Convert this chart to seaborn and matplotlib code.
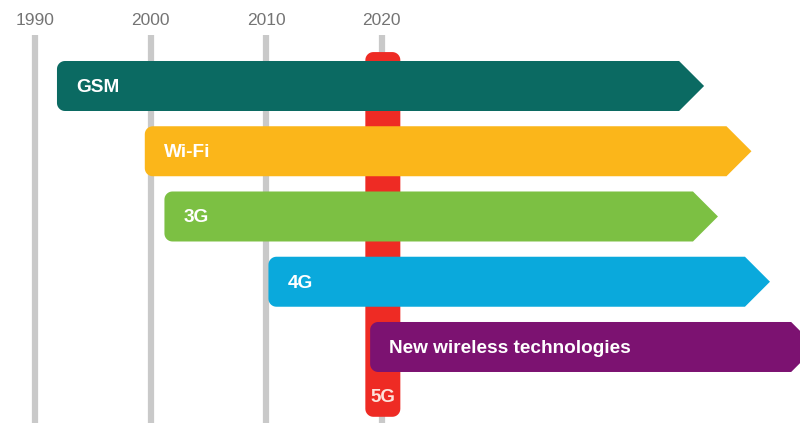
import numpy as np
import matplotlib
matplotlib.use("Agg")
import matplotlib.pyplot as plt
from matplotlib.patches import Polygon
import seaborn as sns

# Technology timeline data
techs = ["GSM", "Wi-Fi", "3G", "4G", "New wireless technologies"]
start_year = [1991.9, 1999.5, 2001.2, 2010.2, 2019.0]
end_year = [2047.9, 2052.0, 2049.1, 2053.6, 2057.6]
colors = ["#0b6a62", "#fbb61a", "#7cc043", "#0aa9dc", "#7c1271"]
year_ticks = [1990, 2000, 2010, 2020]
fiveg_label = "5G"
fiveg_year = 2020.1

sns.set_theme(style="white")
plt.rcParams["font.family"] = ["Liberation Sans", "DejaVu Sans"]

W, H = 800, 423
fig = plt.figure(figsize=(W / 100, H / 100), dpi=100)
ax = fig.add_axes([0, 0, 1, 1])
x0, x1 = 1986.97, 2056.2
y_top, y_bot = -1.318, 5.165
ax.set_xlim(x0, x1)
ax.set_ylim(y_bot, y_top)
ax.axis("off")

px_x = W / (x1 - x0)          # pixels per year
px_y = H / (y_bot - y_top)    # pixels per row


def arc(cx, cy, rx, ry, a0, a1, n=10):
    t = np.radians(np.linspace(a0, a1, n))
    return list(zip(cx + rx * np.cos(t), cy + ry * np.sin(t)))


def arrow_shape(x_left, x_tip, yc, half_h, r_px=8, depth_px=25):
    rx, ry = r_px / px_x, r_px / px_y
    d = depth_px / px_x
    top, bot = yc - half_h, yc + half_h
    pts = []
    # left side with rounded corners (y grows downward on screen)
    pts += arc(x_left + rx, top + ry, rx, ry, 180, 270)
    pts += [(x_tip - d, top), (x_tip, yc), (x_tip - d, bot)]
    pts += arc(x_left + rx, bot - ry, rx, ry, 90, 180)
    return pts


def rounded_rect(xa, xb, ya, yb, r_px=8):
    rx, ry = r_px / px_x, r_px / px_y
    pts = []
    pts += arc(xa + rx, ya + ry, rx, ry, 180, 270)
    pts += arc(xb - rx, ya + ry, rx, ry, 270, 360)
    pts += arc(xb - rx, yb - ry, rx, ry, 0, 90)
    pts += arc(xa + rx, yb - ry, rx, ry, 90, 180)
    return pts


# vertical year guides
line_top = -0.78
for yr in year_ticks:
    ax.plot([yr, yr], [line_top, y_bot], color="#c9c9c9", lw=4.5,
            solid_capstyle="butt", zorder=1)
    ax.text(yr, -1.0, str(yr), ha="center", va="center", fontsize=12.5,
            color="#747474", zorder=2)

# 5G column
half_w = 17.5 / px_x
ax.add_patch(Polygon(rounded_rect(fiveg_year - half_w, fiveg_year + half_w,
                                  -0.52, 5.07), closed=True,
                     facecolor="#ee2b24", edgecolor="none", zorder=2))
ax.text(fiveg_year, 4.77, fiveg_label, ha="center", va="center",
        fontsize=13.5, fontweight="bold", color="#fde3dc", zorder=6)

# technology arrows
half_h = 25 / px_y
text_pad = 19 / px_x
for i, (name, s, e, c) in enumerate(zip(techs, start_year, end_year, colors)):
    ax.add_patch(Polygon(arrow_shape(s, e, i, half_h), closed=True,
                         facecolor=c, edgecolor="none", zorder=4))
    ax.text(s + text_pad, i + 0.02, name, ha="left", va="center", fontsize=13.7,
            fontweight="bold", color="white", zorder=5)

fig.savefig("out.png", dpi=100)
